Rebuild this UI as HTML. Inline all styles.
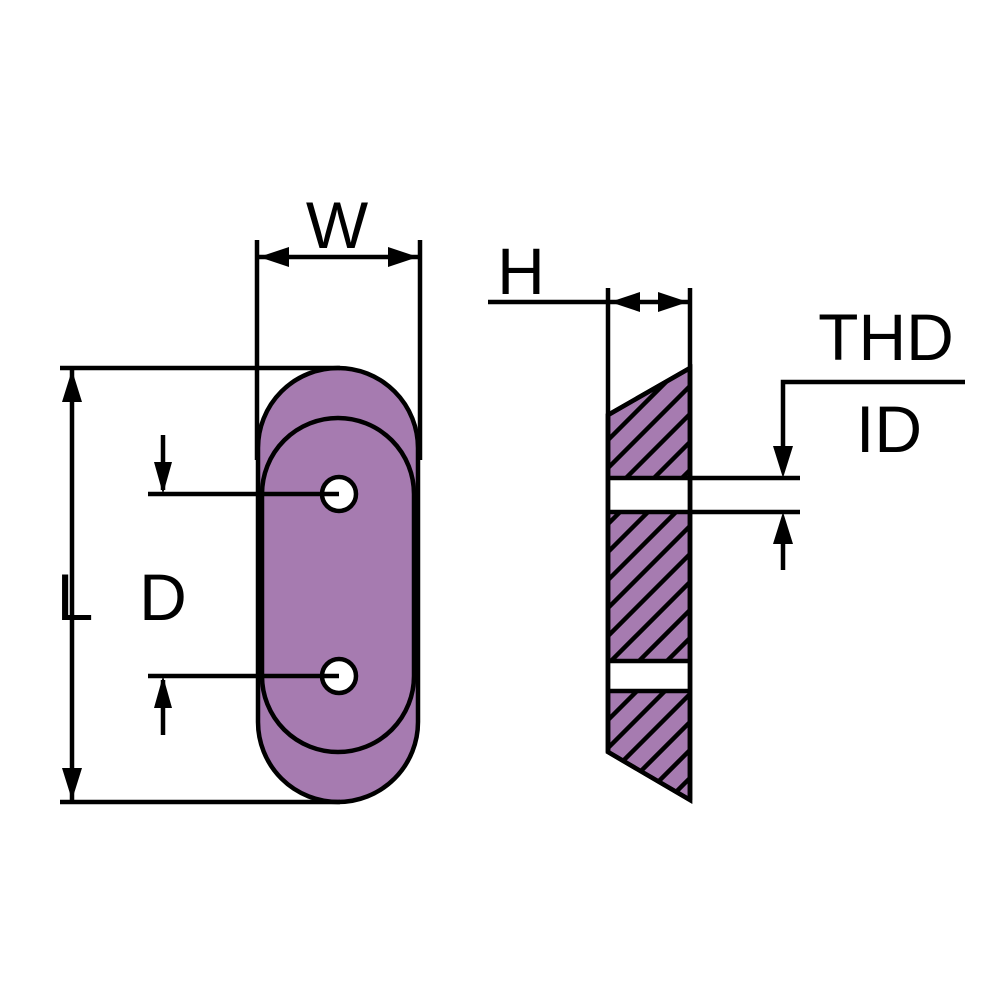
<!DOCTYPE html>
<html><head><style>html,body{margin:0;padding:0;background:#fff}svg{display:block}text{font-family:"Liberation Sans",Arial,sans-serif}</style></head>
<body>
<svg width="1000" height="1000" viewBox="0 0 1000 1000" xmlns="http://www.w3.org/2000/svg">
<defs>
<clipPath id="sec"><polygon points="608,415 690,368 690,800 608,752"/></clipPath>
</defs>
<g stroke="#000" stroke-width="4.5" fill="none">
<path d="M258,448 A80,80 0 0 1 418,448 L418,722 A80,80 0 0 1 258,722 Z" fill="#a67bb0"/>
<path d="M262,494 A76,76 0 0 1 414,494 L414,676 A76,76 0 0 1 262,676 Z" fill="#a67bb0"/>
<circle cx="339" cy="494" r="17" fill="#fff"/>
<circle cx="339" cy="676" r="17" fill="#fff"/>
<line x1="257" y1="240" x2="257" y2="460"/>
<line x1="420" y1="240" x2="420" y2="460"/>
<line x1="259" y1="257" x2="418" y2="257"/>
<path d="M259,257 l30,-10 v20 z M418,257 l-30,-10 v20 z" fill="#000" stroke="none"/>
<line x1="60" y1="368" x2="340" y2="368"/>
<line x1="60" y1="802" x2="340" y2="802"/>
<line x1="72" y1="370" x2="72" y2="800"/>
<path d="M72,370 l-10,32 h20 z M72,800 l-10,-32 h20 z" fill="#000" stroke="none"/>
<line x1="148" y1="494" x2="339" y2="494"/>
<line x1="148" y1="676" x2="339" y2="676"/>
<line x1="163" y1="435" x2="163" y2="490"/>
<line x1="163" y1="680" x2="163" y2="735"/>
<path d="M163,494 l-9,-32 h18 z M163,676 l-9,32 h18 z" fill="#000" stroke="none"/>
<polygon points="608,415 690,368 690,800 608,752" fill="#a67bb0"/>
<g clip-path="url(#sec)">
<path d="M560,460 L720,300 M560,488 L720,328 M560,516 L720,356 M560,544 L720,384 M560,572 L720,412 M560,600 L720,440 M560,628 L720,468 M560,656 L720,496 M560,684 L720,524 M560,712 L720,552 M560,740 L720,580 M560,768 L720,608 M560,796 L720,636 M560,824 L720,664 M560,852 L720,692 M560,880 L720,720 M560,908 L720,748 M560,936 L720,776 M560,964 L720,804 M560,992 L720,832"/>
</g>
<rect x="610" y="479" width="78" height="32" fill="#fff" stroke="none"/>
<rect x="610" y="661" width="78" height="30" fill="#fff" stroke="none"/>
<line x1="608" y1="661" x2="690" y2="661"/>
<line x1="608" y1="691" x2="690" y2="691"/>
<polygon points="608,415 690,368 690,800 608,752"/>
<line x1="608" y1="288" x2="608" y2="752"/>
<line x1="690" y1="288" x2="690" y2="800"/>
<line x1="488" y1="302" x2="690" y2="302"/>
<path d="M610,302 l30,-10 v20 z M688,302 l-30,-10 v20 z" fill="#000" stroke="none"/>
<line x1="608" y1="478" x2="800" y2="478"/>
<line x1="608" y1="512" x2="800" y2="512"/>
<polyline points="965,382 783,382 783,470"/>
<line x1="783" y1="520" x2="783" y2="570"/>
<path d="M783,478 l-10,-32 h20 z M783,512 l-10,32 h20 z" fill="#000" stroke="none"/>
</g>
<g font-size="66" fill="#000">
<text x="337" y="248" text-anchor="middle">W</text>
<text x="75" y="620" text-anchor="middle">L</text>
<text x="163" y="620" text-anchor="middle">D</text>
<text x="521" y="294" text-anchor="middle">H</text>
<text x="886" y="360" text-anchor="middle">THD</text>
<text x="889" y="452" text-anchor="middle">ID</text>
</g>
</svg>
</body></html>
